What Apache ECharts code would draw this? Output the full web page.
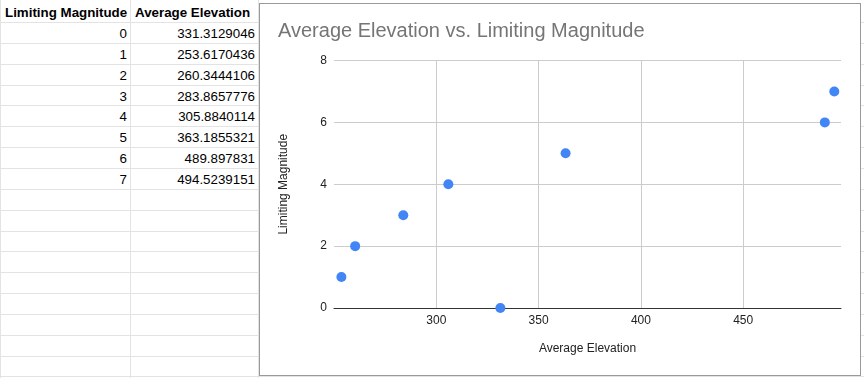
<!DOCTYPE html>
<html>
<head>
<meta charset="utf-8">
<script src="https://cdn.jsdelivr.net/npm/echarts@6/dist/echarts.min.js"></script>
<style>
  html, body { margin: 0; padding: 0; width: 864px; height: 378px; overflow: hidden; background: #fff; font-family: Arial, "Liberation Sans", sans-serif; }
  #sheet { position: absolute; left: 0; top: 0; width: 864px; height: 378px; }
  .hline { position: absolute; left: 0; width: 864px; height: 1px; background: #e2e3e3; }
  .vline { position: absolute; top: 0; width: 1px; height: 378px; background: #e2e3e3; }
  .cell { position: absolute; font-size: 13.33px; color: #000; line-height: 21px; height: 21px; white-space: nowrap; }
  .hdr { font-weight: bold; }
  #chart { position: absolute; left: 259px; top: 3px; width: 600px; height: 371px; background: #fff; border: 1px solid #9a9a9a; }
</style>
</head>
<body>
<div id="sheet"></div>
<div id="chart"></div>
<script>
// ---- data ----
const headers = ["Limiting Magnitude", "Average Elevation"];
const magnitudes = [0, 1, 2, 3, 4, 5, 6, 7];
const elevations = [331.3129046, 253.6170436, 260.3444106, 283.8657776, 305.8840114, 363.1855321, 489.897831, 494.5239151];
const chartTitle = "Average Elevation vs. Limiting Magnitude";
const xAxisTitle = "Average Elevation";
const yAxisTitle = "Limiting Magnitude";
const xTickLabels = [300, 350, 400, 450];
const yTickLabels = [0, 2, 4, 6, 8];

// ---- spreadsheet grid ----
const sheet = document.getElementById('sheet');
function add(cls, style, text) {
  const d = document.createElement('div');
  d.className = cls;
  Object.assign(d.style, style);
  if (text !== undefined) d.textContent = text;
  sheet.appendChild(d);
  return d;
}
const rowH = 20.85;
for (let k = 0; k < 18; k++) {
  add('hline', { top: Math.round(22 + k * rowH) + 'px' });
}
[0, 130, 258].forEach(x => add('vline', { left: x + 'px' }));
// header
add('cell hdr', { left: '5px', width: '125px', top: '2px', textAlign: 'left' }, headers[0]);
add('cell hdr', { left: '135px', width: '125px', top: '2px', textAlign: 'left' }, headers[1]);
for (let i = 0; i < magnitudes.length; i++) {
  const top = Math.round(22 + i * rowH) + 1;
  add('cell', { left: '0px', width: '127px', top: top + 'px', textAlign: 'right' }, String(magnitudes[i]));
  add('cell', { left: '130px', width: '125px', top: top + 'px', textAlign: 'right' }, String(elevations[i]));
}

// ---- chart ----
const chart = echarts.init(document.getElementById('chart'), null, { renderer: 'canvas' });
const pts = elevations.map((e, i) => [e, magnitudes[i]]);
chart.setOption({
  animation: false,
  backgroundColor: '#fff',
  textStyle: { fontFamily: 'Arial, "Liberation Sans", sans-serif' },
  title: {
    text: chartTitle,
    left: 13, top: 12,
    textStyle: { fontSize: 20, fontWeight: 'normal', color: '#757575', fontFamily: 'Arial, "Liberation Sans", sans-serif' }
  },
  grid: { left: 74, right: 19, top: 56.5, bottom: 67, containLabel: false },
  xAxis: {
    type: 'value',
    min: 250, max: 497.8, interval: 50,
    name: xAxisTitle, nameLocation: 'middle', nameGap: 35,
    nameTextStyle: { fontSize: 12, color: '#222' },
    axisLine: { show: true, lineStyle: { color: '#333', width: 1 } },
    axisTick: { show: false },
    axisLabel: {
      fontSize: 12, color: '#222', margin: 7,
      formatter: v => (xTickLabels.indexOf(Math.round(v)) >= 0 && Math.abs(v - Math.round(v)) < 1e-6) ? String(Math.round(v)) : ''
    },
    splitLine: { show: true, showMinLine: false, showMaxLine: false, lineStyle: { color: '#cccccc', width: 1 } }
  },
  yAxis: {
    type: 'value',
    min: 0, max: 8, interval: 2,
    name: yAxisTitle, nameLocation: 'middle', nameGap: 44,
    nameTextStyle: { fontSize: 12, color: '#222' },
    axisLine: { show: false },
    axisTick: { show: false },
    axisLabel: { fontSize: 12, color: '#222', margin: 7, formatter: v => yTickLabels.indexOf(v) >= 0 ? String(v) : '' },
    splitLine: { show: true, showMinLine: false, lineStyle: { color: '#cccccc', width: 1 } }
  },
  series: [{
    type: 'scatter',
    data: pts,
    symbol: 'circle',
    symbolSize: 10,
    itemStyle: { color: '#4285f4', opacity: 1 },
    clip: false,
    z: 5
  }]
});
</script>
</body>
</html>
